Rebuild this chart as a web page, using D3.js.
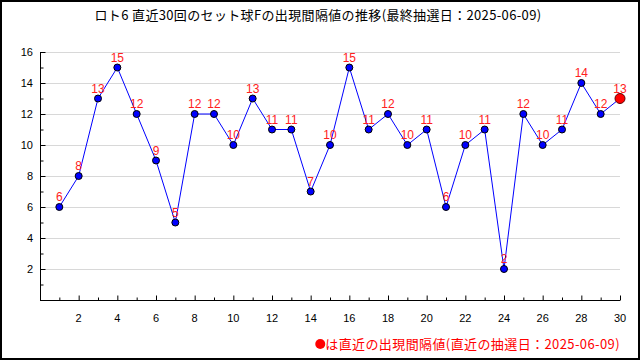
<!DOCTYPE html>
<html><head><meta charset="utf-8">
<script src="https://cdn.jsdelivr.net/npm/d3@7"></script>
<style>body{margin:0;background:#fff}svg{display:block}</style>
</head><body>
<svg id="c" width="640" height="360"></svg>
<script>
const titleText = "ロト6 直近30回のセット球Fの出現間隔値の推移(最終抽選日：2025-06-09)";
const noteText = "は直近の出現間隔値(直近の抽選日：2025-06-09)";
const draws = d3.range(1, 31);
const values = [6,8,13,15,12,9,5,12,12,10,13,11,11,7,10,15,11,12,10,11,6,10,11,2,12,10,11,14,12,13];
const xTicks = [2,4,6,8,10,12,14,16,18,20,22,24,26,28,30];
const yTicks = [2,4,6,8,10,12,14,16];

const svg = d3.select("#c");
const jp = "'Noto Sans CJK JP', sans-serif";
const lat = "'Liberation Sans', Arial, sans-serif";

svg.append("rect").attr("x",1).attr("y",1).attr("width",638).attr("height",358)
  .attr("fill","#fff").attr("stroke","#000").attr("stroke-width",2);

const x = d3.scaleLinear().domain([0,30]).range([40,620]);
const y = d3.scaleLinear().domain([0,16]).range([300,52]);

// grid
svg.append("g").selectAll("line").data(yTicks).join("line")
  .attr("x1",40).attr("x2",620).attr("y1",d=>y(d)+0.5).attr("y2",d=>y(d)+0.5)
  .attr("stroke","#d8d8d8").attr("stroke-width",1);

// axes
const yAx = svg.append("g").attr("transform","translate(40.5,0)")
  .call(d3.axisRight(y).tickValues(d3.range(1,17)).tickSize(4).tickFormat(""));
yAx.selectAll(".tick line").attr("x2", d => d%2===0 ? 5 : 3);
yAx.select(".domain").attr("d","M0,"+y(16)+"V"+y(0));
svg.append("g").selectAll("text").data(yTicks).join("text")
  .attr("x",33).attr("y",d=>y(d)+4).attr("text-anchor","end")
  .attr("font-family",lat).attr("font-size",11).text(d=>d);

const xAx = svg.append("g").attr("transform","translate(0,300.5)")
  .call(d3.axisTop(x).tickValues(d3.range(1,31)).tickSize(4).tickFormat(""));
xAx.selectAll(".tick line").attr("y2", d => d%2===0 ? -5 : -3);
xAx.select(".domain").attr("d","M"+x(0)+",0H"+x(30));
svg.append("g").selectAll("text").data(xTicks).join("text")
  .attr("x",d=>x(d)).attr("y",322).attr("text-anchor","middle")
  .attr("font-family",lat).attr("font-size",11).text(d=>d);

// line
const pts = draws.map((d,i)=>({d, v: values[i]}));
svg.append("path").datum(pts)
  .attr("d", d3.line().x(p=>x(p.d)).y(p=>y(p.v)))
  .attr("fill","none").attr("stroke","#0000ff").attr("stroke-width",1);

svg.append("g").selectAll("circle").data(pts).join("circle")
  .attr("cx",p=>x(p.d)).attr("cy",p=>y(p.v))
  .attr("r",(p,i)=> i===pts.length-1 ? 5 : 3.5)
  .attr("fill",(p,i)=> i===pts.length-1 ? "#ff0000" : "#0000ff")
  .attr("stroke",(p,i)=> i===pts.length-1 ? "#600000" : "#000000").attr("stroke-width",1);

svg.append("g").selectAll("text").data(pts).join("text")
  .attr("x",p=>x(p.d)).attr("y",p=>y(p.v)-6).attr("text-anchor","middle")
  .attr("font-family",lat).attr("font-size",12).attr("fill","#ff2020").text(p=>p.v);

// title
svg.append("text").attr("x",318).attr("y",20).attr("text-anchor","middle")
  .attr("font-family",jp).attr("font-size",13).attr("letter-spacing",0.35).attr("fill","#000").text(titleText);

// note
const note = svg.append("text").attr("x",620).attr("y",349).attr("text-anchor","end")
  .attr("font-family",jp).attr("font-size",13).attr("letter-spacing",0.4).attr("fill","#ff0000").text(noteText);
const bb = note.node().getBBox();
svg.append("circle").attr("cx",bb.x-5).attr("cy",344).attr("r",5).attr("fill","#ff0000");
</script>
</body></html>
